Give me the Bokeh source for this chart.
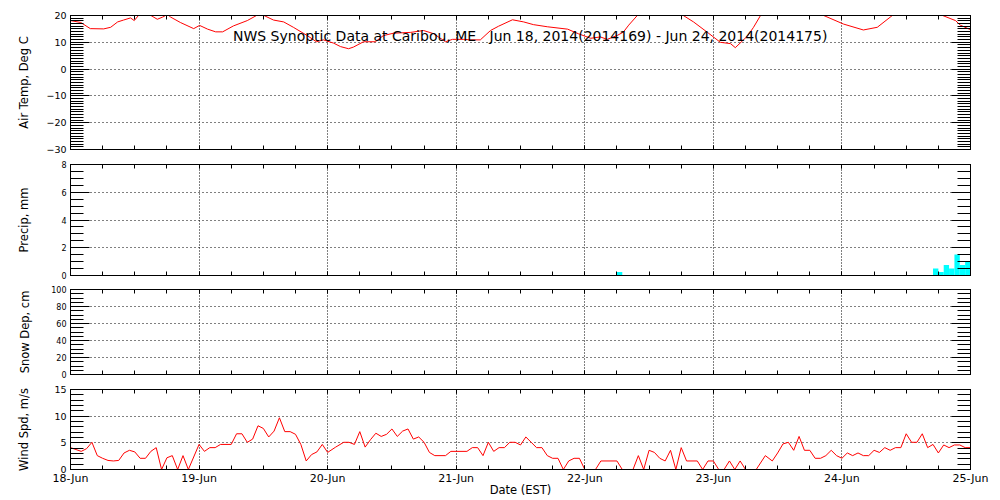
from bokeh.plotting import figure
from bokeh.layouts import column
from bokeh.models import Range1d, LinearAxis, SingleIntervalTicker, CustomJSTickFormatter, Label
from bokeh.embed import file_html
from bokeh.resources import INLINE

# ---------------- data ----------------
title_text = "NWS Synoptic Data at Caribou, ME\u00a0\u00a0\u00a0Jun 18, 2014(2014169) - Jun 24, 2014(2014175)"
x_label = "Date (EST)"
day_hours = [0, 24, 48, 72, 96, 120, 144, 168]
day_labels = ["18-Jun", "19-Jun", "20-Jun", "21-Jun", "22-Jun", "23-Jun", "24-Jun", "25-Jun"]

temp_ticks = [-30, -20, -10]
temp_tick_labels = ["\u221230", "\u221220", "\u221210"]

# hours since Jun 18 00:00 EST
temp_hours = [0, 1.9, 3.7, 6.2, 7.5, 8.8, 9.9, 11.2, 11.9, 13.1, 14.6, 16.2, 17.2, 18.1, 18.7,
              20.5, 23.0, 24.1, 25.6, 27.1, 28.4, 30.4, 33.0, 34.9, 35.5, 36.0, 37.9, 39.8, 41.6,
              44.2, 45.9, 47.2, 49.1, 50.4, 51.9, 52.8, 54.7, 56.9, 58.4, 60.3, 63.5, 65.9, 67.8,
              70.0, 71.3, 73.4, 74.7, 76.5, 78.4, 79.9, 82.5, 84.6, 86.4, 89.0, 92.8, 94.8, 97.1,
              98.9, 100.2, 102.1, 103.2, 104.2, 105.8, 107.3, 110.1, 112.9, 114.4, 116.3, 118.9,
              121.3, 123.2, 124.1, 126.4, 127.5, 128.8, 131.6, 135.3, 138.1, 140.6, 144.3, 148.0,
              150.6, 153.4, 155.9, 159.6, 162.8, 165.2, 166.1, 168]
temp_c = [18.1, 17.4, 15.1, 15.0, 15.6, 17.6, 18.3, 19.1, 18.1, 21.0, 20.5, 18.6, 19.4, 20.4, 19.4,
          17.4, 15.1, 16.3, 14.9, 13.9, 13.9, 16.1, 18.1, 20.2, 20.5, 20.1, 18.3, 17.6, 15.6,
          12.5, 10.2, 10.9, 9.7, 8.4, 7.6, 8.2, 10.2, 10.2, 12.5, 13.4, 13.7, 14.4, 13.2,
          10.2, 11.1, 11.1, 10.9, 10.9, 14.4, 16.0, 18.4, 17.6, 16.6, 15.8, 14.9, 13.2, 11.5,
          12.0, 11.1, 12.6, 13.8, 16.4, 20.0, 22.5, 24.0, 22.0, 20.0, 17.6, 13.7,
          10.0, 9.5, 8.0, 12.4, 15.6, 20.0, 24.0, 25.5, 23.0, 20.0, 16.8, 14.6,
          15.6, 20.0, 23.5, 23.0, 20.0, 18.1, 16.4, 14.7]

precip_end_hours = [103, 162, 163, 164, 165, 166, 167, 168]
precip_mm = [0.25, 0.51, 0.25, 0.76, 0.51, 1.52, 0.76, 1.02]

snow_hours = []
snow_cm = []

wind_hours = [0, 2, 3, 4, 5, 6, 7, 8, 9, 10, 11, 12, 13, 14, 15, 16, 17, 18, 19, 20, 21, 22, 24,
              25, 26, 27, 28, 30, 31, 32, 33, 34, 35, 36, 37, 38, 39, 40, 41, 42, 43, 44, 45, 46,
              47, 48, 49.5, 51, 52, 53, 54, 55, 56, 57, 58, 59, 60, 61, 62, 63, 64, 65, 66, 67,
              68, 70, 71, 74, 75, 76, 77, 78, 79, 80, 81, 82, 83, 84, 85, 86, 87, 88, 89, 90,
              91, 92, 93, 94, 95, 96, 98, 99, 102, 103, 105, 106, 107, 108, 109, 110, 111, 112,
              113, 114, 115, 117, 118, 119, 120, 121, 122, 123, 124, 125, 126, 128, 129.7, 131,
              132, 133, 134, 135, 136, 137, 138, 139, 140, 141, 142, 143, 144, 145, 146, 147,
              148, 149, 150, 151, 152, 153, 154, 155, 156, 157, 158, 159, 160, 161, 162, 163,
              164, 165, 166, 167, 168]
wind_ms = [4.1, 3.4, 3.9, 5.1, 2.6, 2.1, 1.7, 1.6, 1.7, 3.1, 3.6, 3.3, 2.1, 2.1, 3.4, 4.1, 0, 2.2,
           2.6, 0, 2.6, 0, 4.7,
           3.4, 4.1, 4.1, 4.7, 4.7, 6.7, 6.7, 5.1, 5.7, 8.2, 7.7, 6.1, 7.2, 9.7, 7.1, 7.1, 6.6,
           4.7, 1.6, 2.8, 3.3,
           4.7, 3.2, 4.2, 5.1, 5.1, 4.7, 7.1, 4.2, 5.6, 6.8, 6.2, 6.6, 7.6, 6.2, 7.2, 7.6, 5.7,
           6.1, 5.1, 3.2,
           2.6, 2.6, 3.4, 3.4, 4.1, 4.1, 2.6, 5.1, 3.4, 4.1, 4.1, 5.1, 5.1, 4.6, 6.1, 5.1, 4.1,
           4.1, 2.6, 2.1,
           2.1, 0, 1.6, 2.1, 2.1, 0, 0, 1.6, 1.6, 0, 0, 2.6, 0, 3.6, 3.2, 2.1, 1.6, 3.6,
           0, 4.1, 1.6, 1.6, 0, 1.6, 1.6, 0, 0, 1.6, 0, 1.6, 0, 0, 2.6, 1.6,
           3.1, 4.8, 5.1, 3.6, 6.2, 3.6, 3.6, 2.1, 2.1, 2.6, 3.6, 2.6, 2.1, 3.1, 2.6, 3.1,
           2.6, 2.6, 3.6, 3.2, 4.1, 3.6, 4.1, 4.1, 6.7, 5.1, 5.1, 6.7, 4.1, 4.7, 3.1, 4.6,
           4.1, 4.6, 4.6, 4.1, 4.1]

# ---------------- styling helpers ----------------
FONT = "DejaVu Sans"
W = 992
HOURS_PER_DAY = 24


def hide_labels(ax):
    ax.formatter = CustomJSTickFormatter(code="return ''")
    ax.major_label_text_font_size = "0px"
    ax.major_label_standoff = 0


def style_axis(ax, major_in, minor_in):
    ax.axis_line_color = "black"
    ax.axis_line_width = 1
    ax.major_tick_line_color = "black"
    ax.minor_tick_line_color = "black"
    ax.major_tick_in = major_in
    ax.major_tick_out = 0
    ax.minor_tick_in = minor_in
    ax.minor_tick_out = 0


def make_panel(height, top, bottom, y0, y1, ystep, yminor, ylabel, tick_font, lab_standoff,
               show_x=False, y_overrides=None):
    p = figure(width=W, height=height, x_range=Range1d(0, 168), y_range=Range1d(y0, y1),
               output_backend="svg", toolbar_location=None, title=None,
               min_border_left=70, min_border_right=22, min_border_top=top,
               min_border_bottom=bottom)
    p.outline_line_color = "black"
    p.outline_line_alpha = 1
    p.outline_line_width = 1
    p.background_fill_color = "white"
    p.border_fill_color = "white"

    # x axes (bottom + top)
    xax = p.xaxis[0]
    xax.ticker = SingleIntervalTicker(interval=HOURS_PER_DAY, num_minor_ticks=4)
    style_axis(xax, 4, 4)
    if show_x:
        xax.major_label_overrides = {h: l for h, l in zip(day_hours, day_labels)}
        xax.major_label_text_font = FONT
        xax.major_label_text_font_size = "11px"
        xax.major_label_text_color = "black"
        xax.major_label_standoff = 2
        xax.axis_label = x_label
        xax.axis_label_text_font = FONT
        xax.axis_label_text_font_size = "11.5px"
        xax.axis_label_text_font_style = "normal"
        xax.axis_label_text_color = "black"
        xax.axis_label_standoff = -5
    else:
        hide_labels(xax)
    top_ax = LinearAxis(ticker=SingleIntervalTicker(interval=HOURS_PER_DAY, num_minor_ticks=4))
    style_axis(top_ax, 4, 4)
    hide_labels(top_ax)
    p.add_layout(top_ax, "above")

    # y axes (left + right)
    yax = p.yaxis[0]
    yax.ticker = SingleIntervalTicker(interval=ystep, num_minor_ticks=yminor)
    style_axis(yax, 19, 13)
    yax.major_label_text_font = FONT
    yax.major_label_text_font_size = tick_font
    yax.major_label_text_color = "black"
    yax.major_label_standoff = 4
    if y_overrides:
        yax.major_label_overrides = y_overrides
    yax.axis_label = ylabel
    yax.axis_label_text_font = FONT
    yax.axis_label_text_font_size = "11.5px"
    yax.axis_label_text_font_style = "normal"
    yax.axis_label_text_color = "black"
    yax.axis_label_standoff = lab_standoff
    right_ax = LinearAxis(ticker=SingleIntervalTicker(interval=ystep, num_minor_ticks=yminor))
    style_axis(right_ax, 19, 13)
    hide_labels(right_ax)
    p.add_layout(right_ax, "right")

    p.xgrid.grid_line_color = "black"
    p.xgrid.grid_line_dash = "1 2"
    p.xgrid.grid_line_width = 1
    p.ygrid.grid_line_color = "black"
    p.ygrid.grid_line_dash = "1 3"
    p.ygrid.grid_line_width = 1
    return p


# Panel 1: air temperature
p1 = make_panel(156, 15, 7, -30, 20, 10, 10, "Air Temp, Deg C", "9.5px", 12,
                y_overrides={t: l for t, l in zip(temp_ticks, temp_tick_labels)})
p1.line(temp_hours, temp_c, line_color="red", line_width=1)
p1.add_layout(Label(x=85.8, y=12.5, text=title_text, text_align="center",
                    text_baseline="alphabetic", text_font=FONT, text_font_size="14px",
                    text_color="black"))

# Panel 2: precipitation
p2 = make_panel(128, 8, 9, 0, 8, 2, 4, "Precip, mm", "8px", 27)
p2.quad(left=[h - 1 for h in precip_end_hours], right=precip_end_hours,
        bottom=0, top=precip_mm, fill_color="#00FFFF", line_color=None)

# Panel 3: snow depth
p3 = make_panel(98, 5, 8, 0, 100, 20, 4, "Snow Dep, cm", "8px", 16)
p3.line(snow_hours, snow_cm, line_color="red", line_width=1)

# Panel 4: wind speed
p4 = make_panel(118, 7, 31, 0, 15, 5, 5, "Wind Spd, m/s", "9.5px", 20, show_x=True)
p4.line(wind_hours, wind_ms, line_color="red", line_width=1)

layout = column(p1, p2, p3, p4, spacing=0)
open("out.html", "w").write(file_html(layout, INLINE))
